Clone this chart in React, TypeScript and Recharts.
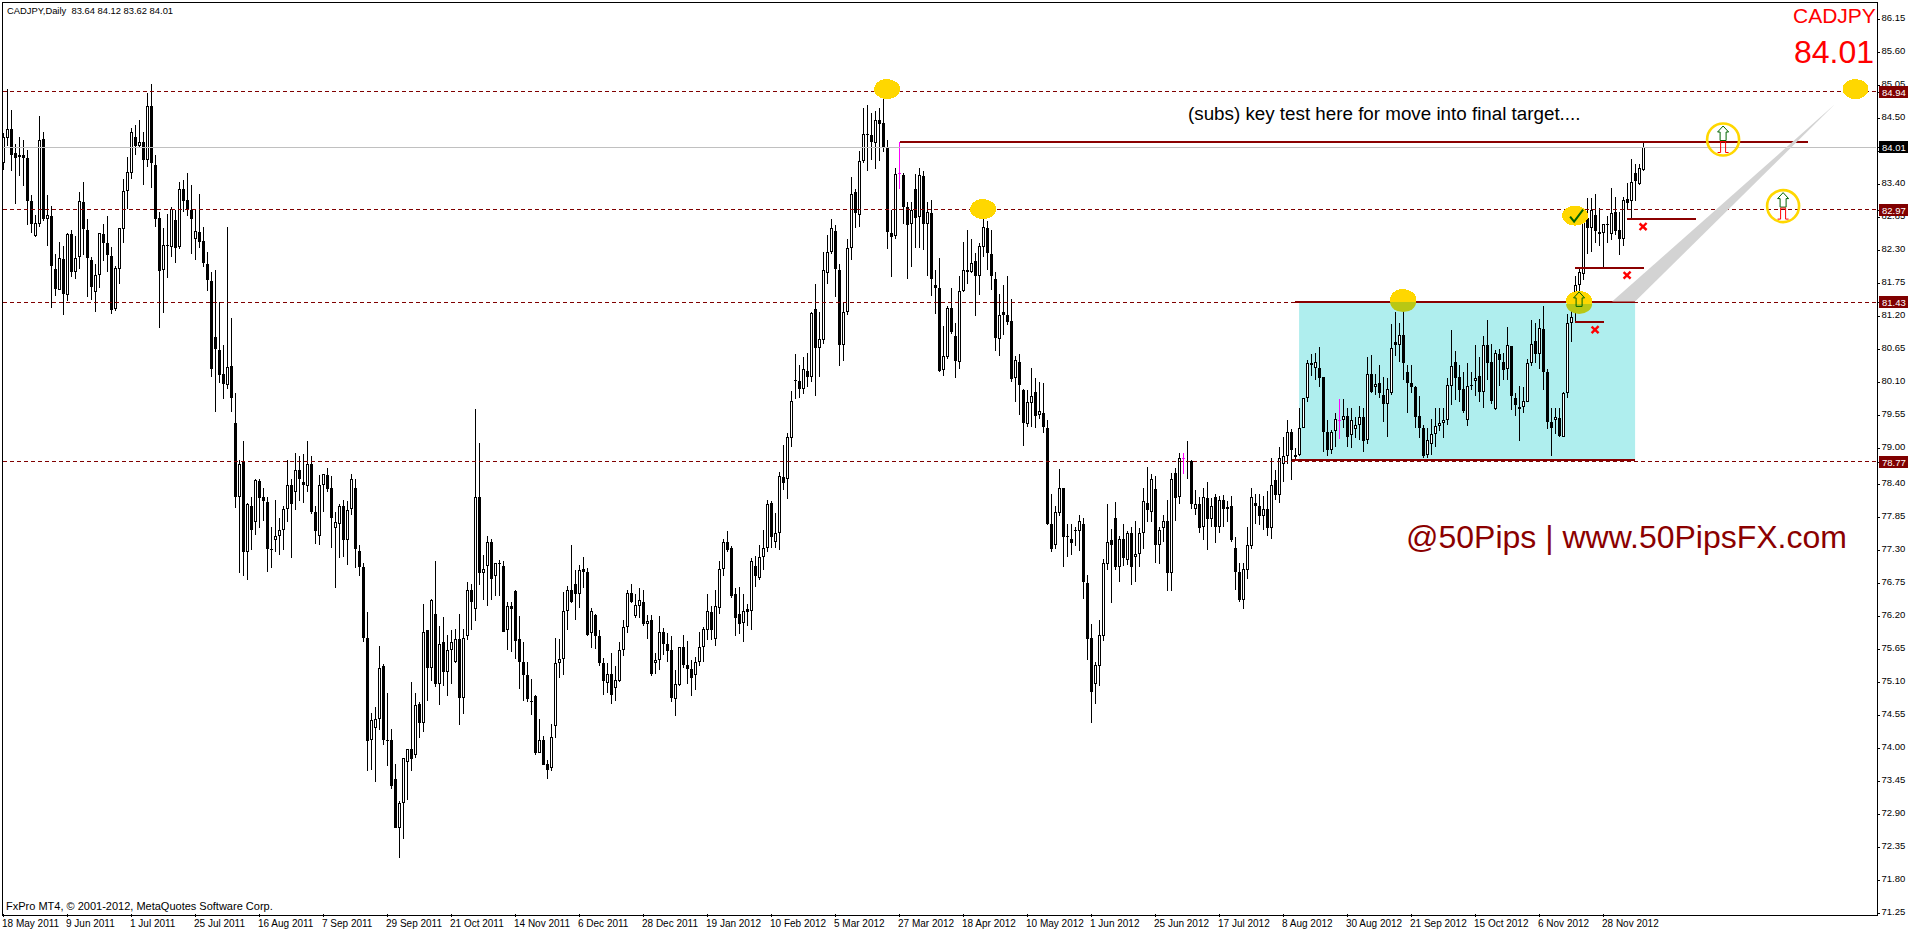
import React from "react";
import { ComposedChart, Bar, XAxis, YAxis, ReferenceLine, ReferenceArea, ReferenceDot } from "recharts";

// Daily candles, [open, high, low, close], one list per time-axis label.
const c18May2011 = [[83.75,84.25,83.63,84.18],[84.16,84.99,84.03,84.31],[84.32,84.64,83.62,83.88],[83.91,84.06,83.06,83.84],[83.85,84.19,83.53,83.89],[83.89,84.13,83.36,83.84],[83.84,83.97,82.71,83.12],[83.12,83.22,82.59,82.74],[82.53,82.89,82.52,82.75],[82.74,84.53,82.68,84.14],[84.15,84.26,82.78,82.82],[82.82,83.21,82.36,82.89],[82.87,83.04,81.33,82.04],[81.99,82.24,81.54,81.65],[81.64,82.43,81.63,82.17],[82.15,82.36,81.21,81.57]];
const c9Jun2011 = [[81.55,82.59,81.45,82.57],[82.57,82.63,81.85,81.93],[81.93,82.53,81.81,82.17],[82.19,83.26,81.98,83.12],[83.10,83.44,82.21,82.65],[82.64,82.81,81.51,82.17],[82.14,82.18,81.46,81.68],[81.60,82.07,81.26,81.89],[81.89,82.59,81.66,82.59],[82.57,82.73,82.11,82.42],[82.42,82.86,81.93,82.22],[82.20,82.35,81.24,81.30],[81.32,82.04,81.28,82.00],[81.99,82.67,81.74,82.67],[82.65,83.49,82.41,83.29],[83.29,83.85,82.98,83.60]];
const c1Jul2011 = [[83.58,84.34,83.48,84.27],[84.19,84.38,83.89,84.04],[84.03,84.46,84.00,84.10],[84.10,84.26,83.39,83.80],[83.80,84.92,83.68,84.70],[84.70,85.06,83.33,83.75],[83.72,83.89,82.69,82.82],[82.84,82.94,81.00,81.95],[81.97,82.67,81.25,82.39],[82.39,82.90,81.83,82.37],[82.35,83.01,82.18,82.98],[82.80,82.96,82.09,82.33],[82.35,83.44,82.32,83.32],[83.32,83.46,82.93,83.12],[83.14,83.59,82.86,82.97],[82.97,83.39,82.24,82.82]];
const c25Jul2011 = [[82.48,82.98,82.14,82.62],[82.60,83.24,82.33,82.43],[82.45,82.68,82.02,82.08],[82.07,82.26,81.61,81.80],[81.79,81.93,80.18,80.32],[80.85,81.97,79.60,80.65],[80.64,81.43,80.09,80.22],[80.24,80.71,79.82,80.06],[80.05,82.68,79.98,80.35],[80.37,81.16,79.60,79.83],[79.41,79.91,78.00,78.18],[78.18,78.80,76.92,78.74],[78.77,79.11,76.86,77.26],[77.27,78.08,76.80,78.06],[78.04,78.19,77.30,77.64],[77.77,78.48,77.55,78.47]];
const c16Aug2011 = [[78.45,78.48,77.67,78.16],[78.18,78.33,77.79,78.11],[78.10,78.18,76.93,77.31],[77.31,77.68,77.00,77.30],[77.46,78.13,77.27,77.53],[77.53,77.83,77.22,77.63],[77.63,78.04,77.30,77.98],[77.98,78.80,77.77,78.38],[78.38,78.48,77.17,78.07],[78.27,78.92,77.97,78.64],[78.63,78.86,78.12,78.48],[78.44,78.90,78.09,78.39],[78.36,79.11,78.27,78.74],[78.74,78.87,77.90,77.93],[77.93,78.03,77.40,77.62],[77.54,78.55,77.38,78.39]];
const c7Sep2011 = [[78.39,78.56,77.93,78.56],[78.55,78.66,78.27,78.32],[78.33,78.53,77.33,77.84],[77.66,77.94,76.67,77.76],[77.74,78.06,77.16,78.04],[78.04,78.13,77.19,77.46],[77.47,78.11,77.05,77.96],[77.98,78.57,77.88,78.49],[78.33,78.48,77.00,77.31],[77.28,77.39,76.86,77.02],[77.01,77.09,75.77,75.84],[75.83,76.27,73.61,74.11],[74.13,74.59,73.63,74.46],[74.34,74.68,73.43,74.49],[74.48,75.70,74.30,75.34],[75.37,75.40,74.05,74.14]];
const c29Sep2011 = [[74.14,74.91,73.70,74.13],[74.14,74.31,73.32,73.36],[73.48,73.74,72.66,72.66],[72.66,73.12,72.17,73.08],[73.08,73.84,72.49,73.83],[73.77,73.98,73.13,73.98],[73.98,75.10,73.62,73.81],[73.89,74.91,73.83,74.71],[74.73,74.77,74.17,74.41],[74.41,76.40,74.26,75.94],[75.96,75.97,74.79,75.33],[75.34,76.48,75.12,76.47],[76.23,77.12,75.02,75.07],[75.06,76.03,74.72,75.74],[75.76,76.18,75.04,75.26],[75.26,75.88,74.86,75.63]];
const c21Oct2011 = [[75.64,75.97,75.07,75.76],[75.43,75.98,75.41,75.81],[75.81,76.23,74.38,74.84],[74.84,75.99,74.57,75.84],[75.86,76.77,75.80,76.63],[76.64,76.74,75.97,76.43],[76.31,79.65,76.11,78.19],[78.18,79.08,76.72,76.91],[76.91,77.22,76.47,76.98],[77.04,77.53,76.37,77.44],[77.44,77.49,76.47,76.82],[76.87,77.09,76.54,77.08],[77.08,77.14,76.54,77.06],[77.04,77.11,75.93,75.94],[75.96,76.44,75.63,76.36],[76.36,76.43,75.60,76.32]];
const c14Nov2011 = [[76.62,76.63,75.49,75.79],[75.81,76.20,74.99,75.44],[75.44,75.76,74.78,75.21],[75.21,75.43,74.76,74.81],[74.79,75.15,74.55,74.76],[74.86,74.88,73.88,73.92],[73.92,74.48,73.92,74.14],[74.14,74.20,73.71,73.72],[73.73,73.80,73.49,73.64],[73.66,74.40,73.61,74.19],[74.36,75.84,74.17,75.41],[75.41,75.82,75.16,75.49],[75.49,76.60,75.21,76.28],[76.28,76.70,75.96,76.63],[76.63,77.38,76.42,76.44],[76.73,76.97,76.13,76.56]];
const c6Dec2011 = [[76.56,77.05,76.33,76.96],[76.98,77.18,76.66,76.93],[76.93,77.00,75.87,75.89],[75.91,76.34,75.66,76.29],[76.22,76.23,75.65,75.86],[75.87,75.97,75.36,75.42],[75.41,75.50,74.89,75.11],[75.09,75.41,74.91,75.23],[75.23,75.59,74.74,74.89],[75.00,75.37,74.79,75.13],[75.12,75.76,75.10,75.64],[75.64,76.13,75.53,76.01],[76.01,76.63,75.92,76.59],[76.58,76.73,76.41,76.44],[76.20,76.56,76.17,76.38],[76.36,76.66,76.17,76.46]];
const c28Dec2011 = [[76.44,76.63,76.03,76.07],[76.06,76.21,75.82,76.11],[76.13,76.21,75.20,75.23],[75.41,75.59,75.23,75.46],[75.46,76.20,75.30,75.93],[75.94,76.00,75.55,75.74],[75.73,75.91,75.44,75.62],[75.63,75.86,74.77,74.83],[74.81,75.30,74.54,75.07],[75.05,75.69,75.03,75.68],[75.69,75.88,75.34,75.38],[75.38,75.79,75.07,75.32],[75.31,75.47,74.86,75.16],[75.21,75.51,74.97,75.43],[75.44,75.93,75.37,75.69],[75.69,76.01,75.44,75.98]];
const c19Jan2012 = [[75.97,76.57,75.80,76.28],[76.27,76.36,75.80,75.96],[75.82,76.63,75.70,76.36],[76.34,77.12,76.24,76.98],[76.98,77.48,76.87,77.44],[77.44,77.61,77.27,77.30],[77.33,77.36,76.50,76.53],[76.56,76.66,75.87,76.17],[76.24,76.68,75.90,76.07],[76.09,76.57,75.76,76.29],[76.32,76.40,76.03,76.26],[76.28,77.16,75.97,77.11],[77.03,77.20,76.69,76.86],[76.84,77.38,76.80,77.18],[77.19,77.63,76.97,77.34],[77.34,78.14,77.26,78.06]];
const c10Feb2012 = [[78.08,78.12,77.33,77.51],[77.44,77.91,77.33,77.59],[77.59,78.60,77.30,78.53],[78.52,79.05,78.30,78.42],[78.48,79.25,78.15,79.19],[79.16,79.95,79.02,79.79],[80.14,80.56,79.81,80.12],[80.12,80.38,79.84,79.99],[79.99,80.51,79.90,80.31],[80.29,80.59,80.02,80.19],[80.19,81.26,80.10,81.25],[81.32,81.74,79.87,80.67],[80.67,81.26,80.19,80.82],[80.80,82.27,80.74,81.96],[81.92,82.55,81.73,82.27],[82.26,82.81,82.23,82.66]];
const c5Mar2012 = [[82.62,82.71,81.51,81.99],[81.97,82.06,80.37,80.72],[80.72,81.41,80.45,81.27],[81.27,82.48,81.21,82.34],[82.34,83.51,82.13,83.24],[83.26,83.32,82.66,82.91],[82.89,83.95,82.69,83.79],[83.79,84.66,83.75,84.24],[84.24,84.71,83.62,84.21],[84.21,84.59,83.80,84.10],[84.09,84.61,83.65,84.46],[84.46,84.67,83.78,84.40],[84.41,84.96,83.94,84.00],[84.02,84.13,82.32,82.60],[82.59,82.97,81.85,82.51],[82.54,83.66,82.49,83.57]];
const c27Mar2012 = [[83.59,84.10,83.32,83.59],[83.55,83.59,82.73,83.01],[83.01,83.10,81.81,82.71],[82.74,83.10,82.02,82.96],[83.32,83.56,82.33,82.84],[82.85,83.67,82.33,83.55],[83.53,83.61,82.30,82.73],[82.73,83.10,81.86,82.94],[82.91,83.14,81.53,81.82],[81.71,81.97,81.23,81.67],[81.67,82.17,80.27,80.29],[80.30,81.03,80.20,80.54],[80.51,81.36,80.49,81.33],[81.34,81.66,80.90,80.93],[80.87,81.08,80.16,80.45],[80.44,81.87,80.31,81.62]];
const c18Apr2012 = [[81.61,82.44,81.60,81.96],[81.96,82.63,81.73,81.94],[81.93,82.49,81.91,82.09],[82.12,82.25,81.20,81.87],[81.87,82.42,81.55,82.37],[82.35,82.98,82.19,82.69],[82.66,82.78,81.96,82.25],[82.24,82.63,81.64,81.87],[81.81,81.94,80.61,80.84],[80.82,81.56,80.53,81.22],[81.27,81.72,80.88,81.22],[81.22,81.86,81.05,81.10],[81.11,81.49,80.10,80.15],[80.17,80.53,79.76,80.46],[80.44,80.57,79.55,80.05],[79.97,79.99,79.04,79.42]];
const c10May2012 = [[79.40,79.96,79.35,79.76],[79.75,80.34,79.35,79.87],[79.94,80.17,79.34,79.54],[79.55,80.10,79.49,79.61],[79.59,80.09,79.25,79.35],[79.34,79.47,77.72,77.74],[77.74,78.24,77.27,77.31],[77.39,78.03,77.32,77.94],[77.92,78.65,77.87,78.33],[78.33,78.34,77.01,77.52],[77.53,77.73,77.19,77.51],[77.49,77.74,77.22,77.41],[77.64,77.69,77.37,77.61],[77.61,77.88,77.29,77.78],[77.74,77.83,76.48,76.76],[76.75,76.88,75.46,75.82]];
const c1Jun2012 = [[75.83,76.07,74.41,74.94],[75.07,75.44,74.74,75.39],[75.36,76.13,75.04,75.88],[75.86,77.15,75.79,77.08],[77.06,78.07,76.97,77.44],[77.46,77.65,76.42,77.39],[77.84,78.10,76.97,77.01],[77.01,77.54,76.76,77.48],[77.48,77.74,77.04,77.16],[77.14,77.62,77.05,77.58],[77.59,77.68,76.71,77.01],[77.19,77.79,76.76,77.24],[77.23,77.66,77.02,77.58],[77.59,78.33,77.32,78.11],[78.09,78.68,77.77,77.96],[77.94,78.56,77.77,78.48]];
const c25Jun2012 = [[78.31,78.54,77.09,77.39],[77.39,77.69,77.07,77.64],[77.66,77.88,77.43,77.78],[77.78,78.13,76.61,76.91],[76.91,78.59,76.61,78.48],[78.58,78.66,77.79,78.17],[78.18,78.92,78.07,78.84],[78.83,78.91,78.57,78.83],[78.79,79.12,78.48,78.78],[78.79,78.80,77.99,78.06],[77.99,78.30,77.88,78.06],[78.06,78.18,77.58,77.67],[77.68,78.33,77.47,78.19],[78.16,78.43,77.30,77.82],[77.81,78.16,77.69,78.03],[78.19,78.24,77.42,77.69]];
const c17Jul2012 = [[77.69,78.20,77.58,78.13],[78.13,78.22,77.69,77.99],[78.01,78.11,77.76,77.99],[78.03,78.20,77.44,77.47],[77.34,77.52,76.63,76.94],[76.94,77.08,76.44,76.47],[76.46,77.08,76.32,76.98],[76.96,77.68,76.81,77.39],[77.37,78.33,77.31,78.18],[78.09,78.24,77.73,78.04],[78.04,78.24,77.72,77.87],[77.87,78.20,77.64,77.98],[77.99,78.28,77.54,77.66],[77.67,78.84,77.49,78.38],[78.46,78.63,78.13,78.22],[78.22,79.01,78.09,78.84]];
const c8Aug2012 = [[78.74,79.18,78.44,78.86],[78.86,79.46,78.74,79.26],[79.26,79.31,78.47,78.96],[78.88,79.00,78.80,78.85],[78.88,79.66,78.86,79.34],[79.34,79.84,79.33,79.84],[79.83,80.47,79.76,80.41],[80.42,80.57,80.20,80.39],[80.33,80.58,80.13,80.43],[80.33,80.68,80.01,80.16],[80.18,80.19,78.94,79.26],[79.27,79.47,78.87,78.96],[78.96,79.30,78.90,79.27],[79.28,79.59,79.02,79.48],[79.46,79.82,79.15,79.46],[79.47,79.81,79.33,79.54]];
const c30Aug2012 = [[79.54,79.66,79.02,79.19],[79.22,79.66,79.00,79.46],[79.31,79.52,79.16,79.38],[79.39,79.70,79.13,79.51],[79.51,79.66,78.94,79.12],[79.14,80.52,79.06,80.24],[80.24,80.55,79.91,79.94],[80.02,80.24,79.88,80.06],[80.08,80.39,79.84,79.91],[79.89,80.19,79.44,79.73],[79.73,80.16,79.19,79.98],[79.91,81.07,79.88,80.66],[80.76,81.26,80.53,80.72],[80.72,81.08,80.44,80.88],[80.88,81.44,80.14,80.41],[80.27,80.38,79.59,80.09]];
const c21Sep2012 = [[80.09,80.38,79.92,80.01],[80.01,80.04,79.34,79.52],[79.54,79.86,79.16,79.34],[79.34,79.38,78.83,78.87],[78.88,79.33,78.83,79.13],[79.06,79.49,78.88,79.23],[79.23,79.66,79.02,79.37],[79.36,79.66,79.29,79.41],[79.41,79.66,79.16,79.46],[79.46,80.16,79.38,80.05],[80.04,80.97,79.72,80.37],[80.44,80.61,79.80,80.17],[80.19,80.38,79.76,79.97],[79.98,80.26,79.58,79.61],[79.46,80.41,79.37,80.04],[80.05,80.27,79.97,80.04]];
const c15Oct2012 = [[80.11,80.71,79.86,80.17],[80.20,80.52,79.76,79.94],[79.94,80.87,79.66,80.71],[80.71,81.13,80.13,80.42],[80.44,80.74,79.74,79.79],[79.65,80.63,79.64,80.58],[80.57,80.65,80.03,80.46],[80.44,80.58,80.13,80.30],[80.32,81.01,80.13,80.71],[80.70,80.70,79.63,79.87],[79.83,79.91,79.54,79.71],[79.69,80.04,79.12,79.65],[79.68,80.02,79.58,79.79],[79.77,80.49,79.76,80.41],[80.41,81.13,80.36,80.74],[80.78,81.08,80.41,80.57]];
const c6Nov2012 = [[80.57,81.15,80.31,81.00],[80.98,81.37,79.97,80.26],[80.26,80.31,79.31,79.44],[79.44,79.66,78.87,79.34],[79.47,79.66,79.24,79.51],[79.50,79.66,79.19,79.20],[79.19,79.94,79.19,79.92],[79.91,81.24,79.83,81.08],[81.08,81.36,80.76,81.19],[81.31,81.86,81.11,81.71],[81.71,81.99,81.36,81.93],[81.90,82.83,81.80,82.81],[82.83,83.17,82.24,82.66],[82.67,83.16,82.27,82.97],[82.89,83.23,82.41,82.62],[82.60,83.00,82.36,82.57]];
const c28Nov2012 = [[82.59,82.73,82.01,82.73],[82.73,82.86,82.41,82.71],[82.57,83.34,82.47,82.91],[82.93,83.19,82.55,82.62],[82.63,82.94,82.22,82.49],[82.48,83.19,82.36,83.14],[83.15,83.41,82.98,83.09],[83.11,83.81,82.83,83.44],[83.58,83.74,83.11,83.45],[83.40,83.74,83.38,83.66],[83.64,84.12,83.62,84.01]];

const periods = [c18May2011,c9Jun2011,c1Jul2011,c25Jul2011,c16Aug2011,c7Sep2011,c29Sep2011,c21Oct2011,c14Nov2011,c6Dec2011,c28Dec2011,c19Jan2012,c10Feb2012,c5Mar2012,c27Mar2012,c18Apr2012,c10May2012,c1Jun2012,c25Jun2012,c17Jul2012,c8Aug2012,c30Aug2012,c21Sep2012,c15Oct2012,c6Nov2012,c28Nov2012];
const dateLabels = ["18 May 2011","9 Jun 2011","1 Jul 2011","25 Jul 2011","16 Aug 2011","7 Sep 2011","29 Sep 2011","21 Oct 2011","14 Nov 2011","6 Dec 2011","28 Dec 2011","19 Jan 2012","10 Feb 2012","5 Mar 2012","27 Mar 2012","18 Apr 2012","10 May 2012","1 Jun 2012","25 Jun 2012","17 Jul 2012","8 Aug 2012","30 Aug 2012","21 Sep 2012","15 Oct 2012","6 Nov 2012","28 Nov 2012"];
const priceTicks = [86.15,85.6,85.05,84.5,83.95,83.4,82.85,82.3,81.75,81.2,80.65,80.1,79.55,79.0,78.4,77.85,77.3,76.75,76.2,75.65,75.1,74.55,74.0,73.45,72.9,72.35,71.8,71.25];
const dashedLevels = [84.94,82.97,81.43,78.77];
const lastPrice = 84.01;
const titleText = "CADJPY,Daily  83.64 84.12 83.62 84.01";
const copyrightText = "FxPro MT4, © 2001-2012, MetaQuotes Software Corp.";
const noteText = "(subs) key test here for move into final target....";
const brandText = "@50Pips | www.50PipsFX.com";

// annotations in chart units: [from index, to index, price]
const darkSegments = [[224,451.2,84.10],[322.9,407.9,81.44],[322.1,407.9,78.80],[405.9,423.1,82.82],[392.9,410.1,82.00],[392.9,400.1,81.10]];
const yellowSpots = [[220.9,84.98],[244.9,82.98],[349.9,81.48],[393.9,81.45],[392.9,82.87],[463,84.98]];
const ringSpots = [[429.9,84.14],[444.9,83.03]];
const crossSpots = [[409.9,82.69],[405.9,81.88],[397.9,80.97]];
const boxRange = [323.9,407.9,78.8,81.43];
const wedgeApex = [457.9,84.73];

const data = periods.flat().map((row, index) => ({
  index, open: row[0], high: row[1], low: row[2], close: row[3], range: [row[2], row[1]],
}));

const xDomain = [-0.375, 468.125];
const yDomain = [71.2317, 86.4317];
const xTicks = dateLabels.map((_, i) => i * 16);
const allYTicks = [...priceTicks, ...dashedLevels, lastPrice];
const DARK = "#800000";
const uiFont = "'Liberation Sans', Arial, sans-serif";

function Candle(props: any) {
  const { x, y, width, height, payload } = props;
  if (payload == null || !(height > 0)) return null;
  const c = Math.floor(x + width / 2);
  const unit = height / (payload.high - payload.low);
  const py = (v: number) => Math.round(y + (payload.high - v) * unit);
  const top = py(payload.high);
  const bottom = py(payload.low);
  const bodyTop = py(Math.max(payload.open, payload.close));
  const bodyBottom = py(Math.min(payload.open, payload.close));
  const bull = payload.close > payload.open;
  const bear = payload.close < payload.open;
  const color = bull || bear ? "#000000" : "#ff00ff";
  const bodyH = Math.max(1, bodyBottom - bodyTop);
  return (
    <g shapeRendering="crispEdges">
      <rect x={c} y={top} width={1} height={Math.max(1, bottom - top)} fill={color} />
      <rect x={c - 1} y={bodyTop} width={3} height={bodyH} fill={color} />
      {bull && bodyH > 2 ? <rect x={c} y={bodyTop + 1} width={1} height={bodyH - 2} fill="#ffffff" /> : null}
    </g>
  );
}

function DateTick(props: any) {
  const { x, payload } = props;
  const label = dateLabels[Math.round(payload.value / 16)];
  const px = Math.floor(x);
  return (
    <g>
      <rect x={px} y={914} width={1} height={3} fill="#000" shapeRendering="crispEdges" />
      <text x={px - 1} y={927} fontSize={10} fontFamily={uiFont} fill="#000" textAnchor="start">{label}</text>
    </g>
  );
}

function PriceTick(props: any) {
  const { y, payload } = props;
  const v = payload.value;
  const isDash = dashedLevels.includes(v);
  const isLast = v === lastPrice;
  const ry = Math.round(y);
  const base = 1877;
  if (isDash || isLast) {
    return (
      <g>
        <rect x={base} y={ry} width={3} height={1} fill="#000" shapeRendering="crispEdges" />
        <rect x={1879} y={ry - 6} width={29} height={12} fill={isLast ? "#000000" : DARK} shapeRendering="crispEdges" />
        <text x={1882} y={ry + 4} fontSize={9.5} fontFamily={uiFont} fill="#ffffff" textAnchor="start">{v.toFixed(2)}</text>
      </g>
    );
  }
  return (
    <g>
      <rect x={base} y={ry} width={3} height={1} fill="#000" shapeRendering="crispEdges" />
      <text x={1881.5} y={ry + 2} fontSize={9.5} fontFamily={uiFont} fill="#000" textAnchor="start">{v.toFixed(2)}</text>
    </g>
  );
}

function YellowBlob(props: any) {
  const { cx, cy } = props;
  return (
    <g shapeRendering="crispEdges">
      <ellipse cx={cx} cy={cy} rx={13} ry={10} fill="#ffd700" />
    </g>
  );
}

function Wedge(props: any) {
  const { cx, cy } = props;
  const pts = `${cx},${cy} ${cx - 223},${cy + 197.5} ${cx - 200},${cy + 197.5}`;
  return <polygon points={pts} fill="#d3d3d3" />;
}

function Cross(props: any) {
  const { cx, cy } = props;
  return (
    <g stroke="#ff0000" strokeWidth={2.4}>
      <line x1={cx - 3.5} y1={cy - 3} x2={cx + 3.5} y2={cy + 3.5} />
      <line x1={cx + 3.5} y1={cy - 3.5} x2={cx - 3.5} y2={cy + 3.5} />
    </g>
  );
}

function UpArrow({ cx, top }: { cx: number; top: number }) {
  const p = `${cx},${top} ${cx + 5.5},${top + 6} ${cx + 3},${top + 6} ${cx + 3},${top + 14.5} ${cx - 3},${top + 14.5} ${cx - 3},${top + 6} ${cx - 5.5},${top + 6}`;
  return <polygon points={p} fill="none" stroke="#006400" strokeWidth={1} />;
}

function Ring(props: any) {
  const { cx, cy } = props;
  const top = cy - 13.5;
  const red = `M${cx - 5.5},${cy + 13} h3 V${cy + 2} h5 V${cy + 13} h3`;
  return (
    <g>
      <circle cx={cx} cy={cy} r={16} fill="none" stroke="#ffd700" strokeWidth={2.6} />
      <UpArrow cx={cx} top={top} />
      <path d={red} fill="none" stroke="#ff0000" strokeWidth={1} />
    </g>
  );
}

function BoxOverlay(props: any) {
  const { cx, cy } = props;
  return (
    <g>
      <path d={`M${cx - 13},${cy + 3} A13,10 0 0 0 ${cx + 13},${cy + 3} Z`} fill="#b9c714" />
    </g>
  );
}

function Check(props: any) {
  const { cx, cy } = props;
  return <path d={`M${cx - 5},${cy + 1} L${cx - 1},${cy + 6} L${cx + 8},${cy - 6}`} fill="none" stroke="#006400" strokeWidth={2} />;
}

function ArrowOnly(props: any) {
  const { cx, cy } = props;
  return <UpArrow cx={cx} top={cy - 9} />;
}

const pos = (left: number, top: number, size: number, color: string) => ({
  position: "absolute" as const, left, top, fontSize: size, color, fontFamily: uiFont, lineHeight: 1, whiteSpace: "pre" as const,
});

export default function App() {
  return (
    <div style={{ position: "absolute", left: 0, top: 0, width: 1914, height: 931, overflow: "hidden", background: "#fff" }}>
      <ComposedChart width={1914} height={931} data={data} margin={{ top: 2, right: 0, bottom: 0, left: 2 }}>
        <XAxis type="number" dataKey="index" domain={xDomain} allowDataOverflow ticks={xTicks} interval={0} height={17} axisLine={false} tickLine={false} tick={<DateTick />} />
        <YAxis type="number" orientation="right" domain={yDomain} allowDataOverflow ticks={allYTicks} interval={0} width={38} axisLine={false} tickLine={false} tick={<PriceTick />} />
        <ReferenceArea x1={boxRange[0]} x2={boxRange[1]} y1={boxRange[2]} y2={boxRange[3]} fill="#afeeee" fillOpacity={1} stroke="none" />
        <ReferenceDot x={wedgeApex[0]} y={wedgeApex[1]} shape={<Wedge />} />
        {dashedLevels.map((v) => (
          <ReferenceLine key={v} y={v} stroke={DARK} strokeWidth={1} strokeDasharray="4 3" shapeRendering="crispEdges" />
        ))}
        <ReferenceLine y={lastPrice} stroke="#c0c0c0" strokeWidth={1} shapeRendering="crispEdges" />
        {yellowSpots.map((s) => (
          <ReferenceDot key={s[0]} x={s[0]} y={s[1]} shape={<YellowBlob />} />
        ))}
        <ReferenceDot x={yellowSpots[2][0]} y={yellowSpots[2][1]} shape={<BoxOverlay />} />
        <ReferenceDot x={yellowSpots[3][0]} y={yellowSpots[3][1]} shape={<BoxOverlay />} />
        {darkSegments.map((s) => (
          <ReferenceLine key={s[0] + "-" + s[2]} segment={[{ x: s[0], y: s[2] }, { x: s[1], y: s[2] }]} stroke="#8b0000" strokeWidth={2} shapeRendering="crispEdges" />
        ))}
        <Bar dataKey="range" barSize={3} isAnimationActive={false} shape={<Candle />} />
        <ReferenceDot x={yellowSpots[3][0]} y={yellowSpots[3][1]} shape={<ArrowOnly />} />
        <ReferenceDot x={yellowSpots[4][0]} y={yellowSpots[4][1]} shape={<Check />} />
        {crossSpots.map((s) => (
          <ReferenceDot key={s[0]} x={s[0]} y={s[1]} shape={<Cross />} />
        ))}
        {ringSpots.map((s) => (
          <ReferenceDot key={s[0]} x={s[0]} y={s[1]} shape={<Ring />} />
        ))}
      </ComposedChart>
      <div style={{ position: "absolute", left: 2, top: 2, width: 1874, height: 912, border: "1px solid #000", pointerEvents: "none" }} />
      <div style={pos(7, 6, 9.4, "#000")}>{titleText}</div>
      <div style={pos(6, 901, 11, "#000")}>{copyrightText}</div>
      <div style={pos(1793, 5, 21, "#ff0000")}>CADJPY</div>
      <div style={pos(1794, 36, 32, "#ff0000")}>84.01</div>
      <div style={pos(1188, 105, 18.8, "#000")}>{noteText}</div>
      <div style={pos(1406, 521, 32, "#8b0000")}>{brandText}</div>
    </div>
  );
}
